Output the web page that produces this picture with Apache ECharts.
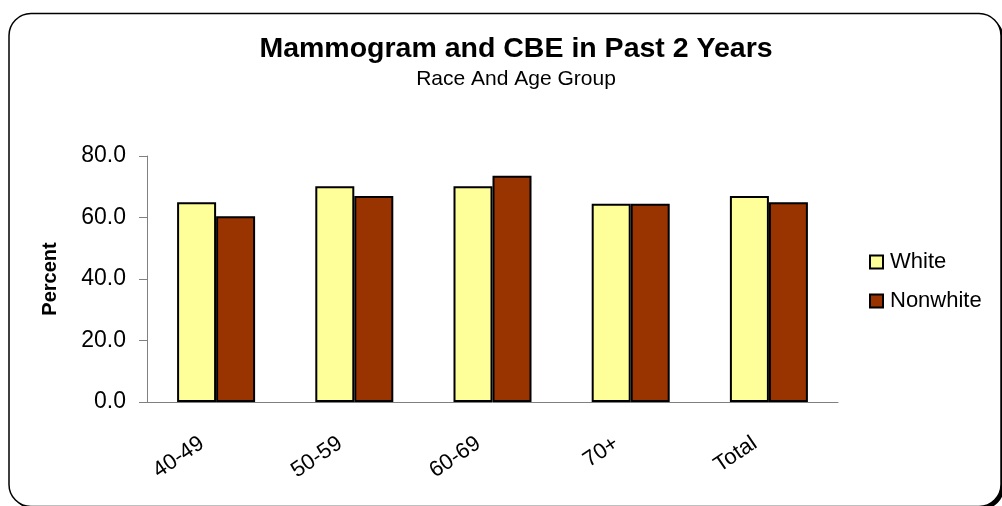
<!DOCTYPE html>
<html>
<head>
<meta charset="utf-8">
<script src="https://cdn.jsdelivr.net/npm/echarts@6/dist/echarts.min.js"></script>
<style>
  html, body { margin: 0; padding: 0; background: #fff; }
  #chart { width: 1002px; height: 506px; }
</style>
</head>
<body>
<div id="chart"></div>
<script>
var categories = ['40-49', '50-59', '60-69', '70+', 'Total'];
var whiteValues = [65.0, 70.2, 70.2, 64.5, 67.0];
var nonwhiteValues = [60.4, 67.0, 73.6, 64.5, 65.0];
var seriesNames = ['White', 'Nonwhite'];

var chart = echarts.init(document.getElementById('chart'));
var font = 'Liberation Sans, Arial, sans-serif';

var option = {
  animation: false,
  backgroundColor: '#fff',
  graphic: [{
    // shadow of the chart frame
    type: 'rect',
    shape: { x: 12, y: 16.5, width: 992, height: 493, r: 22 },
    style: { fill: '#000' },
    z: -2
  }, {
    type: 'rect',
    shape: { x: 9, y: 13.5, width: 992, height: 493, r: 22 },
    style: { fill: '#fff', stroke: '#000', lineWidth: 1.5 },
    z: -1
  }],
  title: {
    text: 'Mammogram and CBE in Past 2 Years',
    subtext: 'Race And Age Group',
    left: 511,
    textAlign: 'center',
    top: 30,
    itemGap: 5,
    textStyle: { fontFamily: font, fontSize: 28.5, fontWeight: 'bold', color: '#000' },
    subtextStyle: { fontFamily: font, fontSize: 21, color: '#000' }
  },
  legend: {
    orient: 'vertical',
    left: 864,
    top: 246,
    itemWidth: 13,
    itemHeight: 13,
    itemGap: 17,
    icon: 'rect',
    data: seriesNames,
    textStyle: { fontFamily: font, fontSize: 22, color: '#000', padding: [0, 0, 0, 2] }
  },
  grid: { left: 147, right: 164, top: 156, bottom: 104 },
  xAxis: {
    type: 'category',
    data: categories,
    axisLine: { lineStyle: { color: '#808080', width: 1 } },
    axisTick: { length: 8, lineStyle: { color: '#808080' } },
    axisLabel: {
      rotate: 34,
      margin: 30,
      padding: [0, 17, 0, 0],
      fontFamily: font,
      fontSize: 22,
      color: '#000'
    }
  },
  yAxis: {
    type: 'value',
    min: 0,
    max: 80,
    interval: 20,
    name: 'Percent',
    nameLocation: 'middle',
    nameGap: 87,
    nameTextStyle: { fontFamily: font, fontSize: 20, fontWeight: 'bold', color: '#000' },
    splitLine: { show: false },
    axisLine: { show: true, lineStyle: { color: '#808080', width: 1 } },
    axisTick: { show: true, length: 8, lineStyle: { color: '#808080' } },
    axisLabel: {
      margin: 21,
      fontFamily: font,
      fontSize: 23,
      color: '#000',
      formatter: function (v) { return v.toFixed(1); }
    }
  },
  series: [{
    name: seriesNames[0],
    type: 'bar',
    data: whiteValues,
    barWidth: 39,
    barGap: '0%',
    itemStyle: { color: '#FFFF99', borderColor: '#000', borderWidth: 2 }
  }, {
    name: seriesNames[1],
    type: 'bar',
    data: nonwhiteValues,
    barWidth: 39,
    itemStyle: { color: '#993300', borderColor: '#000', borderWidth: 2 }
  }]
};

chart.setOption(option);
</script>
</body>
</html>
